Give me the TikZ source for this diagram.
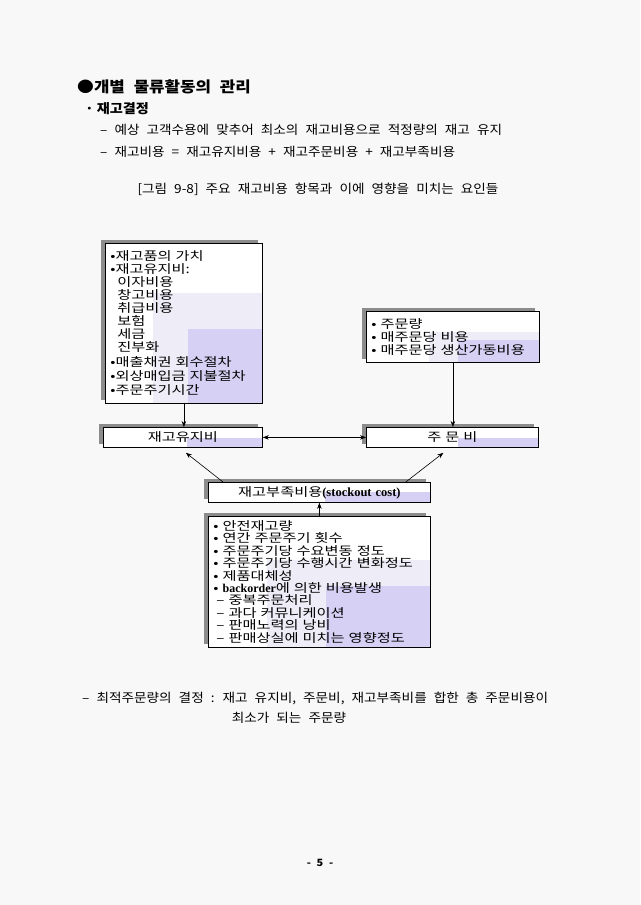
\documentclass[tikz,border=0pt]{standalone}
\usepackage{fontspec}
\setmainfont[WordSpace=2.3,FakeStretch=1.09]{Noto Sans CJK KR}
\newfontfamily\boxfont[FakeStretch=1.27,WordSpace=1.4]{Noto Sans CJK KR}
\newfontfamily\engfont{Liberation Serif}
\usetikzlibrary{positioning,arrows.meta,shadows}

\definecolor{pagebg}{RGB}{248,248,248}
\definecolor{lavbox}{RGB}{214,208,244}
\definecolor{lavlight}{RGB}{238,236,246}

\begin{document}
\begin{tikzpicture}[
  x=1pt, y=-1pt,
  every node/.style={inner sep=0pt},
  box/.style={draw, line width=0.8pt, fill=white, anchor=north west, align=left, inner xsep=5pt,
    drop shadow={shadow xshift=-4pt, shadow yshift=3pt, fill=black!45, opacity=1},
    font=\boxfont\fontsize{12}{12.9}\selectfont},
  lav/.style n args={4}{path picture={
    \fill[lavlight] (path picture bounding box.south east) rectangle ++(-#3pt,#4pt);
    \fill[lavbox] (path picture bounding box.south east) rectangle ++(-#1pt,#2pt);}},
  arr/.style={-{Stealth[length=6pt,width=4.5pt]}, line width=0.6pt},
  dblarr/.style={{Stealth[length=6pt,width=4.5pt]}-{Stealth[length=6pt,width=4.5pt]}, line width=0.6pt},
  txt/.style={anchor=west, font=\fontsize{12.5}{15}\selectfont}
]
\fill[pagebg] (0,0) rectangle (640,905);
\useasboundingbox (0,0) rectangle (640,905);

% heading and text
\node[txt, font=\bfseries\fontsize{15}{16}\selectfont\addfontfeatures{FakeStretch=1.12}] (head) at (77,87) {●개별 물류활동의 관리};
\node[txt, font=\bfseries\fontsize{13}{15}\selectfont] (sub) at (85,109) {·\hspace{3pt}재고결정};
\node[txt] (lineA) at (100,130) {– 예상 고객수용에 맞추어 최소의 재고비용으로 적정량의 재고 유지};
\node[txt] (lineB) at (100,152) {– 재고비용 = 재고유지비용 + 재고주문비용 + 재고부족비용};
\node[txt, anchor=center] (cap) at (318,189) {[그림 9-8] 주요 재고비용 항목과 이에 영향을 미치는 요인들};

% factor boxes
\node[box, lav={74}{74}{109}{110}, text width=147pt, minimum height=160pt] (holdF) at (105,243)
  {•재고품의 가치\\
   •재고유지비:\\
   \hspace*{7pt}이자비용\\
   \hspace*{7pt}창고비용\\
   \hspace*{7pt}취급비용\\
   \hspace*{7pt}보험\\
   \hspace*{7pt}세금\\
   \hspace*{7pt}진부화\\[2pt]
   •매출채권 회수절차\\[2pt]
   •외상매입금 지불절차\\[1pt]
   •주문주기시간};
\node[box, lav={81}{22}{110}{30}, text width=163pt, minimum height=51pt, font=\boxfont\fontsize{12}{13}\selectfont] (orderF) at (366,311)
  {• 주문량\\
   • 매주문당 비용\\
   • 매주문당 생산가동비용};

% cost boxes
\node[box, lav={75}{9}{0}{0}, align=center, text width=149pt, minimum height=20pt] (hold) at (103,427) {재고유지비};
\node[box, lav={80}{9}{0}{0}, align=center, text width=162pt, minimum height=20pt] (ord) at (366,427) {주 문 비};
\node[box, lav={105}{10}{0}{0}, align=center, text width=212pt, minimum height=20pt] (short) at (208,482)
  {재고부족비용{\engfont\bfseries\fontsize{12.5}{12}\selectfont(stockout cost)}};
\node[box, lav={104}{61}{163}{87}, text width=212pt, minimum height=131pt, font=\boxfont\fontsize{12}{12.4}\selectfont] (shortF) at (208,516)
  {• 안전재고량\\
   • 연간 주문주기 횟수\\
   • 주문주기당 수요변동 정도\\
   • 주문주기당 수행시간 변화정도\\
   • 제품대체성\\
   • {\engfont\bfseries backorder}에 의한 비용발생\\
   \hspace*{3pt}– 중복주문처리\\
   \hspace*{3pt}– 과다 커뮤니케이션\\
   \hspace*{3pt}– 판매노력의 낭비\\
   \hspace*{3pt}– 판매상실에 미치는 영향정도};

\draw[arr] (holdF.south) -- (holdF.south |- hold.north);
\draw[arr] (orderF.south) -- (orderF.south |- ord.north);
\draw[dblarr] (hold) -- (ord);
\draw[arr] ([xshift=15pt]short.north west) -- ([xshift=3pt,yshift=-5pt]hold.south);
\draw[arr] ([xshift=-25pt]short.north east) -- ([xshift=-9pt,yshift=-5pt]ord.south);
\draw[arr] (shortF.north) -- (shortF.north |- short.south);

% conclusion
\node[txt] (noteA) at (82,698) {– 최적주문량의 결정 : 재고 유지비, 주문비, 재고부족비를 합한 총 주문비용이};
\node[txt, anchor=center] (noteB) at (289,718) {최소가 되는 주문량};
\node[font=\bfseries\fontsize{10}{12}\selectfont] (page) at (320,863) {- 5 -};
\end{tikzpicture}
\end{document}
